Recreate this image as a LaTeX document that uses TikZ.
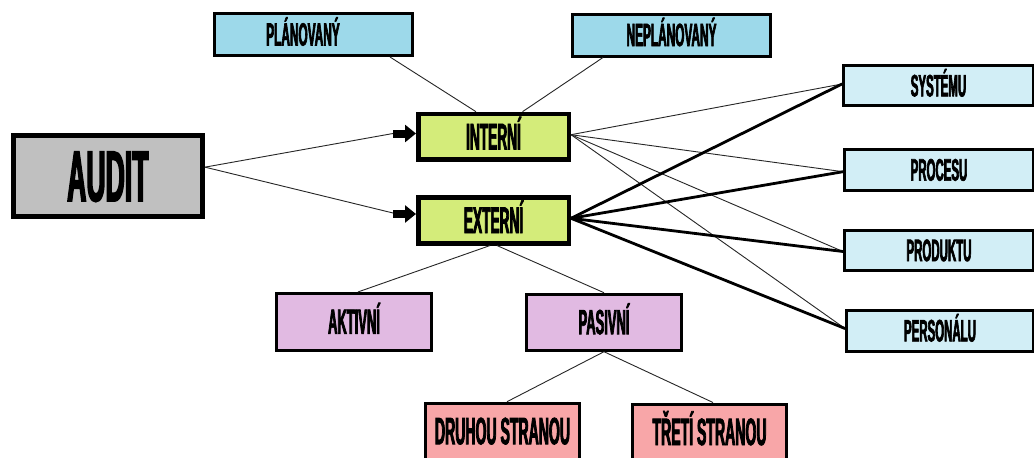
\documentclass[tikz,border=0pt]{standalone}
\usepackage{fontspec}
\usetikzlibrary{arrows.meta}
\newfontfamily\lblfont[FakeStretch=0.37,FakeBold=2]{Liberation Sans}
\definecolor{auditgray}{HTML}{C0C0C0}
\definecolor{limefill}{HTML}{D4EC7A}
\definecolor{topblue}{HTML}{9DD9EA}
\definecolor{paleblue}{HTML}{D2EEF6}
\definecolor{lilac}{HTML}{E1BAE2}
\definecolor{rosefill}{HTML}{F8A6A8}
\begin{document}
\begin{tikzpicture}[x=1pt,y=-1pt,
  box/.style={draw=black,line width=3pt,inner sep=0pt,text=black},
  lbl/.style 2 args={font=\lblfont\bfseries\fontsize{#1}{#1}\selectfont,text height=#2pt,text depth=0pt},
  thinlink/.style={draw=black!85,line width=0.9pt},
  thicklink/.style={draw=black,line width=2.8pt,line cap=round},
  blockarrow/.style={draw=black,line width=8pt,-{Triangle[length=11pt,width=17pt]}}
]
\fill[white] (0,0) rectangle (1034,458);
\useasboundingbox (0,0) rectangle (1034,458);

% main box
\node[box,fill=auditgray,line width=5pt,minimum width=189.3pt,minimum height=80.7pt,lbl={72}{50}] (audit) at (107.85,176.15) {AUDIT};

% internal / external
\node[box,fill=limefill,line width=4.5pt,minimum width=150.5pt,minimum height=45.5pt,lbl={37}{25.5}] (int) at (493.5,136.7) {INTERNÍ};
\node[box,fill=limefill,line width=4.5pt,minimum width=150.5pt,minimum height=46pt,lbl={37}{25.5}] (ext) at (493.5,220.3) {EXTERNÍ};

% planned / unplanned
\node[box,fill=topblue,minimum width=198pt,minimum height=42pt,lbl={32}{22}] (plan) at (313.5,34.5) {\hspace*{-21pt}PLÁNOVANÝ};
\node[box,fill=topblue,minimum width=198pt,minimum height=42pt,lbl={32}{22}] (neplan) at (671.5,35) {NEPLÁNOVANÝ};

% subjects of the audit
\node[box,fill=paleblue,minimum width=190pt,minimum height=40pt,lbl={31}{21.2}] (sys) at (938.5,85.8) {SYSTÉMU};
\node[box,fill=paleblue,minimum width=189pt,minimum height=40.4pt,lbl={31}{21.2}] (proc) at (939,170) {PROCESU};
\node[box,fill=paleblue,minimum width=189pt,minimum height=40pt,lbl={31}{21.2}] (prod) at (939,250.5) {PRODUKTU};
\node[box,fill=paleblue,minimum width=187pt,minimum height=40.7pt,lbl={31}{21.2}] (pers) at (940,330.8) {PERSONÁLU};

% active / passive
\node[box,fill=lilac,minimum width=155pt,minimum height=56.7pt,lbl={35}{24}] (akt) at (354,321.8) {AKTIVNÍ};
\node[box,fill=lilac,minimum width=155pt,minimum height=56pt,lbl={35}{24}] (pas) at (604,322.2) {PASIVNÍ};

% second / third party
\node[box,fill=rosefill,minimum width=154pt,minimum height=56pt,lbl={38}{26}] (dru) at (502.5,431.2) {DRUHOU STRANOU};
\node[box,fill=rosefill,minimum width=154pt,minimum height=56pt,lbl={38}{26}] (tre) at (709.5,432) {TŘETÍ STRANOU};

% audit to internal / external
\coordinate (ti) at (393,133.5);
\coordinate (te) at (393,214);
\draw[thinlink] ([yshift=9pt]audit.east) -- (ti);
\draw[thinlink] ([yshift=9pt]audit.east) -- ([yshift=1pt]te);
\draw[blockarrow] (ti) -- (int.west |- ti);
\draw[blockarrow] (te) -- (ext.west |- te);

% planned / unplanned to internal
\draw[thinlink] ([xshift=76.5pt]plan.south) -- ([xshift=-17.5pt]int.north);
\draw[thinlink] ([xshift=-68.5pt]neplan.south) -- ([xshift=29pt]int.north);

% external to active / passive
\draw[thinlink] ([xshift=-3.5pt]ext.south) -- ([xshift=4pt]akt.north);
\draw[thinlink] ([xshift=3.5pt]ext.south) -- (pas.north);

% passive to parties
\draw[thinlink] (pas.south) -- ([xshift=4.5pt]dru.north);
\draw[thinlink] (pas.south) -- ([xshift=3.5pt]tre.north);

% internal to subjects (thin)
\draw[thinlink] ([yshift=2pt]int.east) -- ([yshift=1.8pt]sys.west);
\draw[thinlink] ([yshift=2pt]int.east) -- ([yshift=-1.7pt]proc.west);
\draw[thinlink] ([yshift=2pt]int.east) -- ([yshift=-1pt]prod.west);
\draw[thinlink] ([yshift=2pt]int.east) -- ([yshift=2.3pt]pers.west);

% external to subjects (thick)
\draw[thicklink] ([yshift=2pt]ext.east) -- ([yshift=1.8pt]sys.west);
\draw[thicklink] ([yshift=2pt]ext.east) -- ([yshift=-1.7pt]proc.west);
\draw[thicklink] ([yshift=2pt]ext.east) -- ([yshift=-1pt]prod.west);
\draw[thicklink] ([yshift=2pt]ext.east) -- ([yshift=2.3pt]pers.west);
\end{tikzpicture}
\end{document}
